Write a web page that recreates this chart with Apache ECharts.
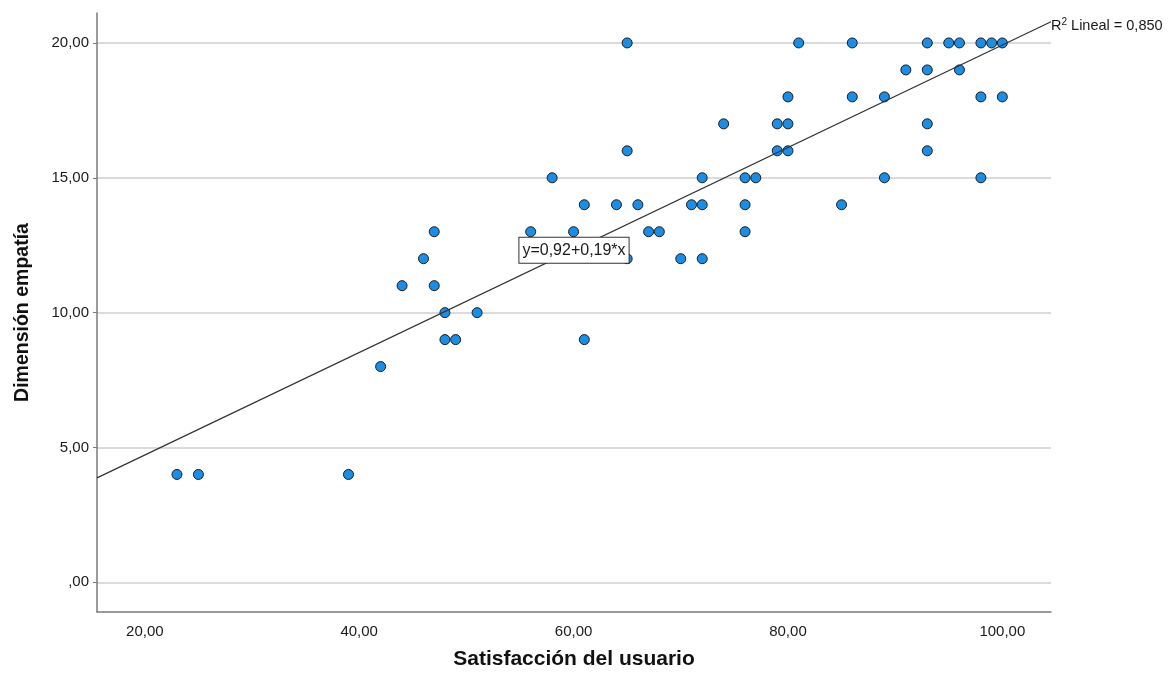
<!DOCTYPE html>
<html>
<head>
<meta charset="utf-8">
<script src="https://cdn.jsdelivr.net/npm/echarts@6/dist/echarts.min.js"></script>
<style>
  html, body { margin: 0; padding: 0; background: #ffffff; }
  #chart { width: 1168px; height: 679px; }
</style>
</head>
<body>
<div id="chart"></div>
<script>
// Satisfacción del usuario (x) vs. Dimensión empatía (y), one entry per respondent
const satisfaccion = [23, 25, 39, 42, 44, 46, 47, 47, 48, 48, 49, 51,
  56, 58, 60, 61, 61, 64, 65, 65, 65, 66, 67, 68, 70, 71, 72, 72, 72, 74,
  76, 76, 76, 77, 79, 79, 80, 80, 80, 81, 85, 86, 86, 89, 89, 91,
  93, 93, 93, 93, 95, 96, 96, 98, 98, 98, 99, 100, 100];
const empatia = [4, 4, 4, 8, 11, 12, 13, 11, 10, 9, 9, 10,
  13, 15, 13, 14, 9, 14, 20, 16, 12, 14, 13, 13, 12, 14, 15, 14, 12, 17,
  15, 14, 13, 15, 17, 16, 18, 17, 16, 20, 14, 20, 18, 18, 15, 19,
  20, 19, 17, 16, 20, 20, 19, 20, 18, 15, 20, 20, 18];

// Axis ticks
const xTicks = [20, 40, 60, 80, 100];
const yTicks = [0, 5, 10, 15, 20];

// Linear fit reported on the chart
const fitIntercept = 0.92;
const fitSlope = 0.19;
const fitR2 = 0.850;

const xRange = [15.54, 104.54];
const yRange = [-1.1, 21.11];

const fmt = v => (v === 0 ? ',00' : v.toFixed(2).replace('.', ','));
const fitY = x => fitIntercept + fitSlope * x;

const points = satisfaccion.map((x, i) => [x, empatia[i]]);
const fitLine = xRange.map(x => [x, fitY(x)]);

const chart = echarts.init(document.getElementById('chart'), null, { renderer: 'canvas' });

const sans = 'Liberation Sans, Arial, sans-serif';
const tickFont = { fontFamily: sans, fontSize: 15, color: '#1a1a1a' };

chart.setOption({
  backgroundColor: '#ffffff',
  animation: false,
  grid: { left: 97, right: 117, top: 13, bottom: 67, containLabel: false },
  xAxis: {
    type: 'value',
    min: xRange[0],
    max: xRange[1],
    name: 'Satisfacción del usuario',
    nameLocation: 'middle',
    nameGap: 37,
    nameTextStyle: { fontFamily: sans, fontSize: 21, fontWeight: 'bold', color: '#111111' },
    axisLine: { show: true, onZero: false, lineStyle: { color: '#7a7a7a', width: 1.5 } },
    axisTick: { show: false, customValues: xTicks },
    axisLabel: { customValues: xTicks, formatter: fmt, margin: 12, ...tickFont },
    splitLine: { show: false }
  },
  yAxis: {
    type: 'value',
    min: yRange[0],
    max: yRange[1],
    name: 'Dimensión empatía',
    nameLocation: 'middle',
    nameGap: 64,
    nameTextStyle: { fontFamily: sans, fontSize: 19.5, fontWeight: 'bold', color: '#111111' },
    axisLine: { show: true, onZero: false, lineStyle: { color: '#7a7a7a', width: 1.5 } },
    axisTick: { show: true, customValues: yTicks, length: 4, lineStyle: { color: '#7a7a7a' } },
    axisLabel: { customValues: yTicks, formatter: fmt, margin: 8, ...tickFont },
    splitLine: { show: true, lineStyle: { color: '#cfcfcf', width: 1.5 } }
  },
  series: [
    {
      type: 'scatter',
      data: points,
      symbol: 'circle',
      symbolSize: 10,
      itemStyle: { color: '#1b8de4', borderColor: '#1c1c1c', borderWidth: 1, opacity: 1 },
      z: 3
    },
    {
      type: 'line',
      data: fitLine,
      symbol: 'none',
      lineStyle: { color: '#333333', width: 1.2 },
      z: 4,
      silent: true,
      markPoint: {
        symbol: 'rect',
        symbolSize: 0,
        silent: true,
        data: [
          {
            coord: [60.04, 12.31],
            label: {
              show: true,
              position: 'inside',
              formatter: 'y=' + fmt(fitIntercept) + '+' + fmt(fitSlope) + '*x',
              backgroundColor: '#ffffff',
              borderColor: '#333333',
              borderWidth: 1,
              padding: [5, 3, 4, 3],
              fontFamily: sans,
              fontSize: 16,
              color: '#1a1a1a'
            }
          },
          {
            coord: fitLine[1],
            label: {
              show: true,
              position: 'right',
              distance: 0,
              offset: [0, 4],
              formatter: 'R{sup|2} Lineal = ' + fitR2.toFixed(3).replace('.', ','),
              fontFamily: sans,
              fontSize: 14.5,
              color: '#1a1a1a',
              rich: {
                sup: { fontSize: 10, verticalAlign: 'top', padding: [0, 0, 8, 0], color: '#1a1a1a', fontFamily: sans }
              }
            }
          }
        ]
      }
    }
  ]
});
</script>
</body>
</html>
